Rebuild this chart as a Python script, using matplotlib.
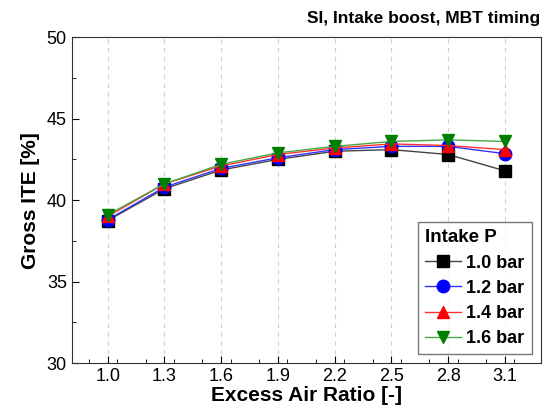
import numpy as np
import matplotlib.pyplot as plt
from matplotlib.ticker import MultipleLocator

plt.rcParams['font.family'] = ['Liberation Sans', 'DejaVu Sans']

lam = [1.0, 1.3, 1.6, 1.9, 2.2, 2.5, 2.8, 3.1]
ite_10 = [38.75, 40.7, 41.85, 42.5, 43.0, 43.1, 42.8, 41.8]
ite_12 = [38.8, 40.8, 41.95, 42.6, 43.1, 43.3, 43.3, 42.85]
ite_14 = [39.0, 41.0, 42.1, 42.8, 43.2, 43.45, 43.35, 43.1]
ite_16 = [39.1, 41.0, 42.2, 42.9, 43.3, 43.6, 43.7, 43.6]
labels = ['1.0 bar', '1.2 bar', '1.4 bar', '1.6 bar']

fig = plt.figure(figsize=(5.48, 4.17), dpi=100)
ax = fig.add_axes([0.131, 0.129, 0.856, 0.782])

series = [
    (ite_10, 's', '#444444', 'black'),
    (ite_12, 'o', '#3333ff', 'blue'),
    (ite_14, '^', '#ff3333', 'red'),
    (ite_16, 'v', '#44aa44', 'green'),
]
for (y, m, lc, mc), lab in zip(series, labels):
    ax.plot(lam, y, '-', color=lc, lw=1.0, marker=m, ms=9,
            mfc=mc, mec=mc, label=lab)

ax.set_xlim(0.81, 3.29)
ax.set_ylim(30, 50)
ax.set_xticks(lam)
ax.xaxis.set_minor_locator(MultipleLocator(0.15))
ax.yaxis.set_major_locator(MultipleLocator(5))
ax.yaxis.set_minor_locator(MultipleLocator(2.5))
ax.tick_params(which='both', direction='in', top=False, right=False, labelsize=13)
ax.tick_params(which='major', length=5)
ax.tick_params(which='minor', length=3)
ax.grid(axis='x', ls=(0, (4, 4)), color='#d0d0d0', lw=0.8)
ax.set_axisbelow(True)
for s in ax.spines.values():
    s.set_color('#333333')

ax.set_xlabel('Excess Air Ratio [-]', fontsize=15, fontweight='bold', labelpad=1)
ax.set_ylabel('Gross ITE [%]', fontsize=15, fontweight='bold', labelpad=5)
fig.text(0.985, 0.955, 'SI, Intake boost, MBT timing', ha='right', va='center',
         fontsize=12.5, fontweight='bold')

leg = ax.legend(title='Intake P', loc='lower right', fontsize=13,
                title_fontsize=13.5, frameon=True, fancybox=False,
                edgecolor='#555555', borderaxespad=0.5, handlelength=2.0,
                handletextpad=0.3, labelspacing=0.45, borderpad=0.4)
leg._legend_box.align = 'left'
leg.get_title().set_fontweight('bold')
for t in leg.get_texts():
    t.set_fontweight('bold')
leg.get_frame().set_linewidth(1.0)

fig.savefig('out.png', dpi=100)
